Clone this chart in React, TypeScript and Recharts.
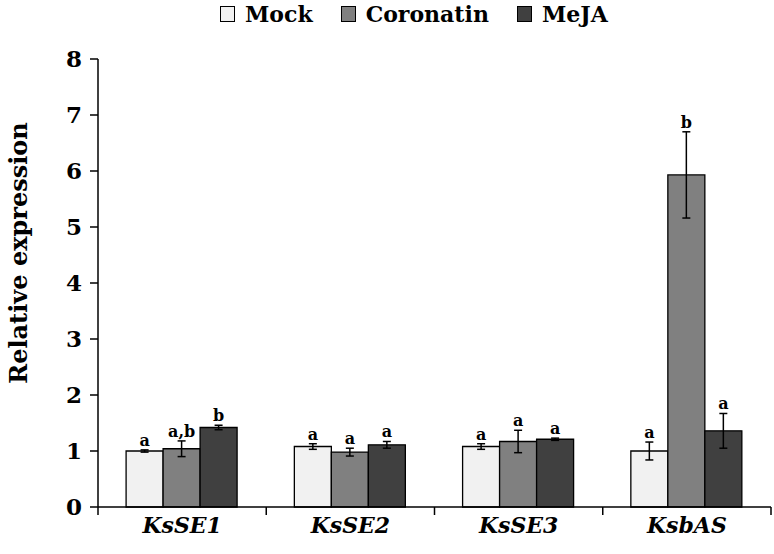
import { Bar, BarChart, ErrorBar, LabelList, XAxis, YAxis } from "recharts";

// Liberation Serif is not picked up in this environment, DejaVu Serif is
const FONT = "DejaVu Serif";

const categories = ["KsSE1", "KsSE2", "KsSE3", "KsbAS"];
const yTicks = [0, 1, 2, 3, 4, 5, 6, 7, 8];

const mock = [1.0, 1.08, 1.08, 1.0];
const mockErr = [0.02, 0.05, 0.05, 0.16];
const mockLetters = ["a", "a", "a", "a"];

const coronatin = [1.04, 0.98, 1.17, 5.93];
const coronatinErr = [0.14, 0.07, 0.2, 0.77];
const coronatinLetters = ["a,b", "a", "a", "b"];

const meja = [1.42, 1.11, 1.21, 1.36];
const mejaErr = [0.04, 0.06, 0.02, 0.31];
const mejaLetters = ["b", "a", "a", "a"];

const series = [
  { key: "mock", name: "Mock", values: mock, errors: mockErr, letters: mockLetters, color: "#f1f1f1" },
  { key: "coronatin", name: "Coronatin", values: coronatin, errors: coronatinErr, letters: coronatinLetters, color: "#808080" },
  { key: "meja", name: "MeJA", values: meja, errors: mejaErr, letters: mejaLetters, color: "#404040" },
];

const data = categories.map((category, i) => {
  const row: Record<string, string | number> = { category };
  series.forEach((s) => {
    row[s.key] = s.values[i];
    row[s.key + "Err"] = s.errors[i];
  });
  return row;
});

// letter sits just above the error bar cap
const makeLetter = (s: (typeof series)[number]) => (props: any) => {
  const box = props.viewBox ?? props;
  const { x, y, width, height } = box;
  const i = props.index;
  const v = s.values[i];
  const pxPerUnit = Math.abs(height) / v;
  const top = y - s.errors[i] * pxPerUnit;
  return (
    <text
      x={x + width / 2}
      y={top - 4}
      textAnchor="middle"
      fontFamily={FONT}
      fontWeight="bold"
      fontSize={16}
      fill="#000"
    >
      {s.letters[i]}
    </text>
  );
};

const CategoryTick = (props: any) => {
  const { x, y, payload, index } = props;
  const half = payload?.offset ?? 84;
  return (
    <g>
      {index === 0 && <line x1={x - half} x2={x - half} y1={y} y2={y + 8} stroke="#000" strokeWidth={1.5} />}
      <line x1={x + half} x2={x + half} y1={y} y2={y + 8} stroke="#000" strokeWidth={1.5} />
      <text
        x={x}
        y={y + 26}
        textAnchor="middle"
        fontFamily={FONT}
        fontWeight="bold"
        fontStyle="italic"
        fontSize={22}
        fill="#000"
      >
        {payload.value}
      </text>
    </g>
  );
};

const YLabel = (props: any) => {
  const vb = props.viewBox;
  const cx = 18;
  const cy = vb.y + vb.height / 2 - 30;
  return (
    <text
      x={cx}
      y={cy}
      transform={`rotate(-90, ${cx}, ${cy})`}
      textAnchor="middle"
      dominantBaseline="central"
      fontFamily={FONT}
      fontWeight="bold"
      fontSize={24}
      fill="#000"
    >
      Relative expression
    </text>
  );
};

function Legend() {
  return (
    <div
      style={{
        position: "absolute",
        top: 1,
        left: 220,
        display: "flex",
        alignItems: "center",
        fontFamily: FONT,
        fontWeight: "bold",
        fontSize: 22,
        lineHeight: "26px",
      }}
    >
      {series.map((s) => (
        <div key={s.key} style={{ display: "flex", alignItems: "center", marginRight: 28 }}>
          <span
            style={{
              display: "inline-block",
              width: 13,
              height: 14,
              background: s.color,
              border: "1px solid #000",
              marginRight: 10,
            }}
          />
          <span>{s.name}</span>
        </div>
      ))}
    </div>
  );
}

export default function App() {
  return (
    <div style={{ position: "absolute", left: 0, top: 0, width: 774, height: 554, background: "#fff" }}>
      <Legend />
      <BarChart
        width={774}
        height={554}
        data={data}
        margin={{ top: 59, right: 3, left: 0, bottom: 0 }}
        barCategoryGap="16.7%"
        barGap={0}
      >
        <XAxis
          dataKey="category"
          height={47}
          tickSize={0}
          tickMargin={0}
          axisLine={{ stroke: "#000", strokeWidth: 1.5 }}
          tickLine={false}
          tick={<CategoryTick />}
          interval={0}
        />
        <YAxis
          width={98}
          domain={[0, 8]}
          ticks={yTicks}
          interval={0}
          tickSize={8}
          tickMargin={8}
          axisLine={{ stroke: "#000", strokeWidth: 1.5 }}
          tickLine={{ stroke: "#000", strokeWidth: 1.5 }}
          tick={{ fill: "#000", fontSize: 23, fontWeight: "bold", fontFamily: FONT }}
          label={<YLabel />}
        />
        {series.map((s) => (
          <Bar
            key={s.key}
            dataKey={s.key}
            name={s.name}
            fill={s.color}
            stroke="#000"
            strokeWidth={1.3}
            isAnimationActive={false}
          >
            <ErrorBar dataKey={s.key + "Err"} width={4} stroke="#000" strokeWidth={1.5} direction="y" />
            <LabelList dataKey={s.key} content={makeLetter(s)} />
          </Bar>
        ))}
      </BarChart>
    </div>
  );
}
